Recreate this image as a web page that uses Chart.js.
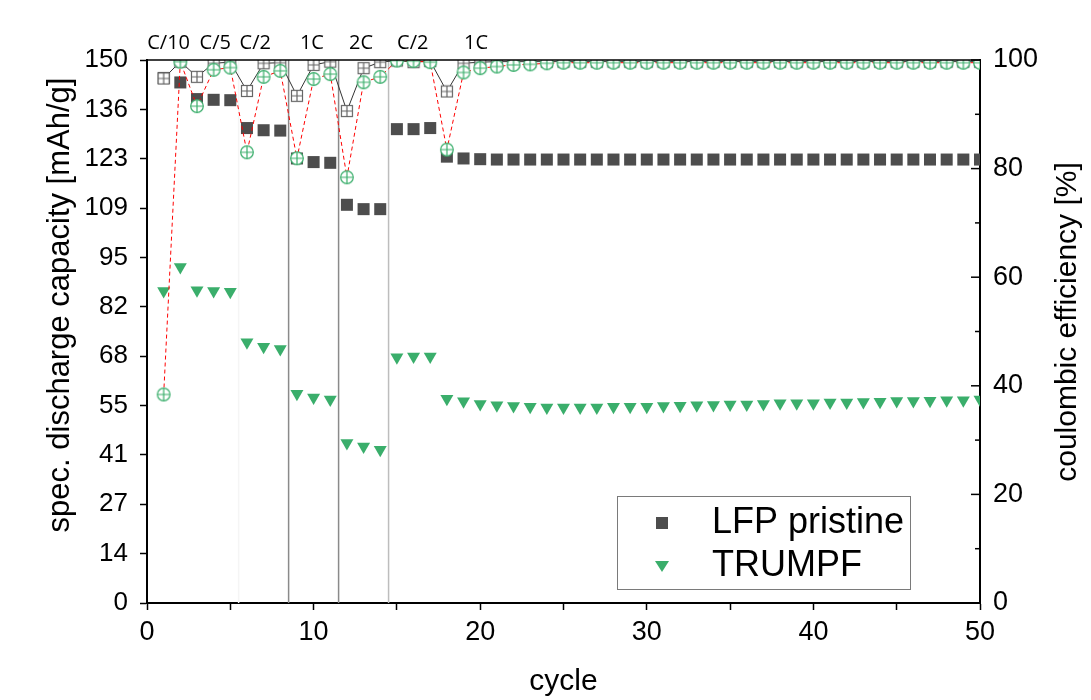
<!DOCTYPE html>
<html>
<head>
<meta charset="utf-8">
<script src="https://cdn.jsdelivr.net/npm/chart.js@4"></script>
<style>
  body { margin: 0; background: #fff; }
  #wrap { width: 1091px; height: 700px; }
</style>
</head>
<body>
<div id="wrap"><canvas id="rateChart" width="1091" height="700"></canvas></div>
<script>
// data
const cycles = [1, 2, 3, 4, 5, 6, 7, 8, 9, 10, 11, 12, 13, 14, 15, 16, 17, 18, 19, 20,
  21, 22, 23, 24, 25, 26, 27, 28, 29, 30, 31, 32, 33, 34, 35, 36, 37, 38, 39, 40,
  41, 42, 43, 44, 45, 46, 47, 48, 49, 50];

// spec. discharge capacity [mAh/g]
const lfpCapacity = [145.0, 143.8, 139.2, 139.0, 138.9, 131.2, 130.6, 130.5, 122.8, 121.8,
  121.6, 110.0, 108.8, 108.8, 130.9, 130.9, 131.2, 123.3, 122.8, 122.6,
  122.5, 122.5, 122.5, 122.5, 122.5, 122.5, 122.5, 122.5, 122.5, 122.5,
  122.5, 122.5, 122.5, 122.5, 122.5, 122.5, 122.5, 122.5, 122.5, 122.5,
  122.5, 122.5, 122.5, 122.5, 122.5, 122.5, 122.5, 122.5, 122.5, 122.5];
const trumpfCapacity = [86.2, 92.8, 86.4, 86.2, 86.0, 72.0, 70.8, 70.2, 57.8, 56.8,
  56.2, 44.2, 43.2, 42.3, 67.9, 68.1, 68.1, 56.4, 55.7, 55.0,
  54.6, 54.4, 54.2, 54.0, 54.0, 54.0, 54.0, 54.2, 54.2, 54.2,
  54.4, 54.5, 54.6, 54.7, 54.8, 54.8, 55.0, 55.2, 55.2, 55.2,
  55.4, 55.4, 55.5, 55.6, 55.8, 55.8, 55.9, 56.0, 56.0, 56.2];

// coulombic efficiency [%]
const lfpCE = [96.6, 99.7, 96.9, 99.4, 99.6, 94.3, 99.4, 99.5, 93.4, 99.1,
  99.7, 90.6, 98.5, 99.6, 99.9, 99.6, 99.8, 94.2, 99.4, 99.6,
  99.7, 99.7, 99.7, 99.7, 99.7, 99.7, 99.7, 99.7, 99.7, 99.7,
  99.7, 99.7, 99.7, 99.7, 99.7, 99.7, 99.7, 99.7, 99.7, 99.7,
  99.7, 99.7, 99.7, 99.7, 99.7, 99.7, 99.7, 99.7, 99.7, 99.7];
const trumpfCE = [38.4, 99.7, 91.5, 98.2, 98.6, 83.0, 96.9, 98.0, 81.9, 96.5,
  97.4, 78.4, 95.9, 96.9, 99.9, 99.8, 99.6, 83.5, 97.7, 98.5,
  98.8, 99.1, 99.2, 99.4, 99.5, 99.5, 99.5, 99.5, 99.5, 99.5,
  99.5, 99.5, 99.5, 99.5, 99.5, 99.5, 99.5, 99.5, 99.5, 99.5,
  99.5, 99.5, 99.5, 99.5, 99.5, 99.5, 99.5, 99.5, 99.5, 99.5];

// left axis tick labels (11 equal steps over 0..150)
const capTickLabels = ['0', '14', '27', '41', '55', '68', '82', '95', '109', '123', '136', '150'];

// C-rate labels above the plot and step separators
const rateLabels = ['C/10', 'C/5', 'C/2', '1C', '2C', 'C/2', '1C'];
const rateLabelCycle = [1.3, 4.1, 6.5, 9.9, 12.85, 15.95, 19.75];
const separators = [5.5, 8.5, 11.5, 14.5];
const separatorColors = ['#f5f5f5', '#8a8a8a', '#8a8a8a', '#bdbdbd'];

const legendNames = ['LFP pristine', 'TRUMPF'];
const leftTitle = 'spec. discharge capacity [mAh/g]';
const rightTitle = 'coulombic efficiency [%]';

const grey = '#4d4d4d';
const green = '#3aae6b';

function pts(ys) {
  return cycles.map((c, i) => ({ x: c, y: ys[i] }));
}

// open markers with a cross, like the origin plot
function crossCircle(color) {
  const c = document.createElement('canvas');
  c.width = 16; c.height = 16;
  const g = c.getContext('2d');
  g.fillStyle = '#fff';
  g.strokeStyle = color;
  g.lineWidth = 1.2;
  g.beginPath(); g.arc(8, 8, 6.3, 0, Math.PI * 2); g.fill(); g.stroke();
  g.beginPath();
  g.moveTo(1.7, 8); g.lineTo(14.3, 8);
  g.moveTo(8, 1.7); g.lineTo(8, 14.3);
  g.stroke();
  return c;
}
function crossSquare(color) {
  const c = document.createElement('canvas');
  c.width = 14; c.height = 14;
  const g = c.getContext('2d');
  g.fillStyle = '#fff';
  g.strokeStyle = color;
  g.lineWidth = 1.2;
  g.fillRect(1.5, 1.5, 11, 11);
  g.strokeRect(1.5, 1.5, 11, 11);
  g.beginPath();
  g.moveTo(1.5, 7); g.lineTo(12.5, 7);
  g.moveTo(7, 1.5); g.lineTo(7, 12.5);
  g.stroke();
  return c;
}

const decor = {
  id: 'decor',
  beforeDatasetsDraw(chart) {
    const { ctx, chartArea: a, scales: { x } } = chart;
    ctx.save();
    ctx.lineWidth = 1.5;
    separators.forEach((s, i) => {
      const px = x.getPixelForValue(s);
      ctx.strokeStyle = separatorColors[i];
      ctx.beginPath(); ctx.moveTo(px, a.top); ctx.lineTo(px, a.bottom); ctx.stroke();
    });
    ctx.restore();
  },
  afterDraw(chart) {
    const { ctx, chartArea: a, scales: { x, y2 } } = chart;
    ctx.save();
    // top frame
    ctx.strokeStyle = '#000';
    ctx.lineWidth = 1.5;
    ctx.beginPath(); ctx.moveTo(a.left, a.top); ctx.lineTo(a.right, a.top); ctx.stroke();
    // inward ticks on right axis
    for (let v = 0; v <= 100; v += 10) {
      const py = y2.getPixelForValue(v);
      const len = v % 20 === 0 ? 9 : 5;
      ctx.beginPath(); ctx.moveTo(a.right, py); ctx.lineTo(a.right - len, py); ctx.stroke();
    }
    // rate labels
    ctx.fillStyle = '#000';
    ctx.font = '20px "Open Sans"';
    ctx.textAlign = 'center';
    ctx.textBaseline = 'alphabetic';
    rateLabels.forEach((t, i) => ctx.fillText(t, x.getPixelForValue(rateLabelCycle[i]), 49));

    // axis titles, both read bottom to top
    ctx.textBaseline = 'middle';
    ctx.font = '31px "Liberation Sans"';
    ctx.save();
    ctx.translate(60, 305);
    ctx.rotate(-Math.PI / 2);
    ctx.fillText(leftTitle, 0, 0);
    ctx.restore();
    ctx.font = '30px "Liberation Sans"';
    ctx.save();
    ctx.translate(1068, 322);
    ctx.rotate(-Math.PI / 2);
    ctx.fillText(rightTitle, 0, 0);
    ctx.restore();

    // legend box
    ctx.strokeStyle = '#7a7a7a';
    ctx.lineWidth = 1;
    ctx.strokeRect(617.5, 496.5, 293, 93);
    ctx.fillStyle = grey;
    ctx.fillRect(656, 517, 12, 12);
    ctx.fillStyle = green;
    ctx.beginPath();
    ctx.moveTo(655, 561); ctx.lineTo(669, 561); ctx.lineTo(662, 572); ctx.closePath(); ctx.fill();
    ctx.fillStyle = '#000';
    ctx.font = '36px "Liberation Sans"';
    ctx.textAlign = 'left';
    ctx.fillText(legendNames[0], 712, 523);
    ctx.fillText(legendNames[1], 712, 566);
    ctx.restore();
  }
};

const ctx = document.getElementById('rateChart').getContext('2d');
new Chart(ctx, {
  type: 'scatter',
  data: {
    datasets: [
      {
        label: 'TRUMPF CE',
        data: pts(trumpfCE),
        yAxisID: 'y2',
        showLine: true,
        borderColor: '#ff0000',
        borderWidth: 1,
        borderDash: [4, 3],
        pointStyle: crossCircle(green),
        pointRadius: 7
      },
      {
        label: 'LFP CE',
        data: pts(lfpCE),
        yAxisID: 'y2',
        showLine: true,
        borderColor: '#333',
        borderWidth: 1,
        pointStyle: crossSquare('#666'),
        pointRadius: 7
      },
      {
        label: legendNames[0],
        data: pts(lfpCapacity),
        yAxisID: 'y',
        pointStyle: 'rect',
        pointRadius: 8.5,
        backgroundColor: grey,
        borderColor: grey,
        borderWidth: 0
      },
      {
        label: legendNames[1],
        data: pts(trumpfCapacity),
        yAxisID: 'y',
        pointStyle: 'triangle',
        rotation: 180,
        pointRadius: 7.5,
        backgroundColor: green,
        borderColor: green,
        borderWidth: 0
      }
    ]
  },
  options: {
    responsive: false,
    animation: false,
    layout: { padding: { top: 60, left: 0, right: 0, bottom: 0 } },
    plugins: {
      legend: { display: false },
      tooltip: { enabled: false }
    },
    scales: {
      x: {
        type: 'linear',
        min: 0,
        max: 50,
        afterFit: (s) => { s.height = 97; },
        border: { color: '#000', width: 2 },
        grid: { drawOnChartArea: false, tickLength: 7, color: '#000', tickWidth: 1.5 },
        ticks: {
          stepSize: 5,
          autoSkip: false,
          maxRotation: 0,
          padding: 6,
          color: '#000',
          font: { family: '"Liberation Sans Narrow", "Liberation Sans"', size: 27 },
          callback: (v) => (v % 10 === 0 ? v : '')
        },
        title: {
          display: true,
          text: 'cycle',
          color: '#000',
          padding: { top: 0, bottom: 0 },
          font: { family: '"Liberation Sans"', size: 30 }
        }
      },
      y: {
        position: 'left',
        min: 0,
        max: 150,
        afterFit: (s) => { s.width = 147; },
        afterBuildTicks: (s) => {
          s.ticks = capTickLabels.map((t, i) => ({ value: i * 150 / 11 }));
        },
        border: { color: '#000', width: 2 },
        grid: { drawOnChartArea: false, tickLength: 7, color: '#000', tickWidth: 1.5 },
        ticks: {
          padding: 12,
          color: '#000',
          font: { family: '"Liberation Sans"', size: 26 },
          callback: (v, i) => capTickLabels[i]
        },
        title: { display: false }
      },
      y2: {
        position: 'right',
        min: 0,
        max: 100,
        afterFit: (s) => { s.width = 111; },
        border: { color: '#000', width: 2 },
        grid: { drawOnChartArea: false, drawTicks: false },
        ticks: {
          stepSize: 10,
          autoSkip: false,
          padding: 13,
          color: '#000',
          font: { family: '"Liberation Sans"', size: 27 },
          callback: (v) => (v % 20 === 0 ? v : '')
        },
        title: { display: false }
      }
    }
  },
  plugins: [decor]
});
</script>
</body>
</html>
